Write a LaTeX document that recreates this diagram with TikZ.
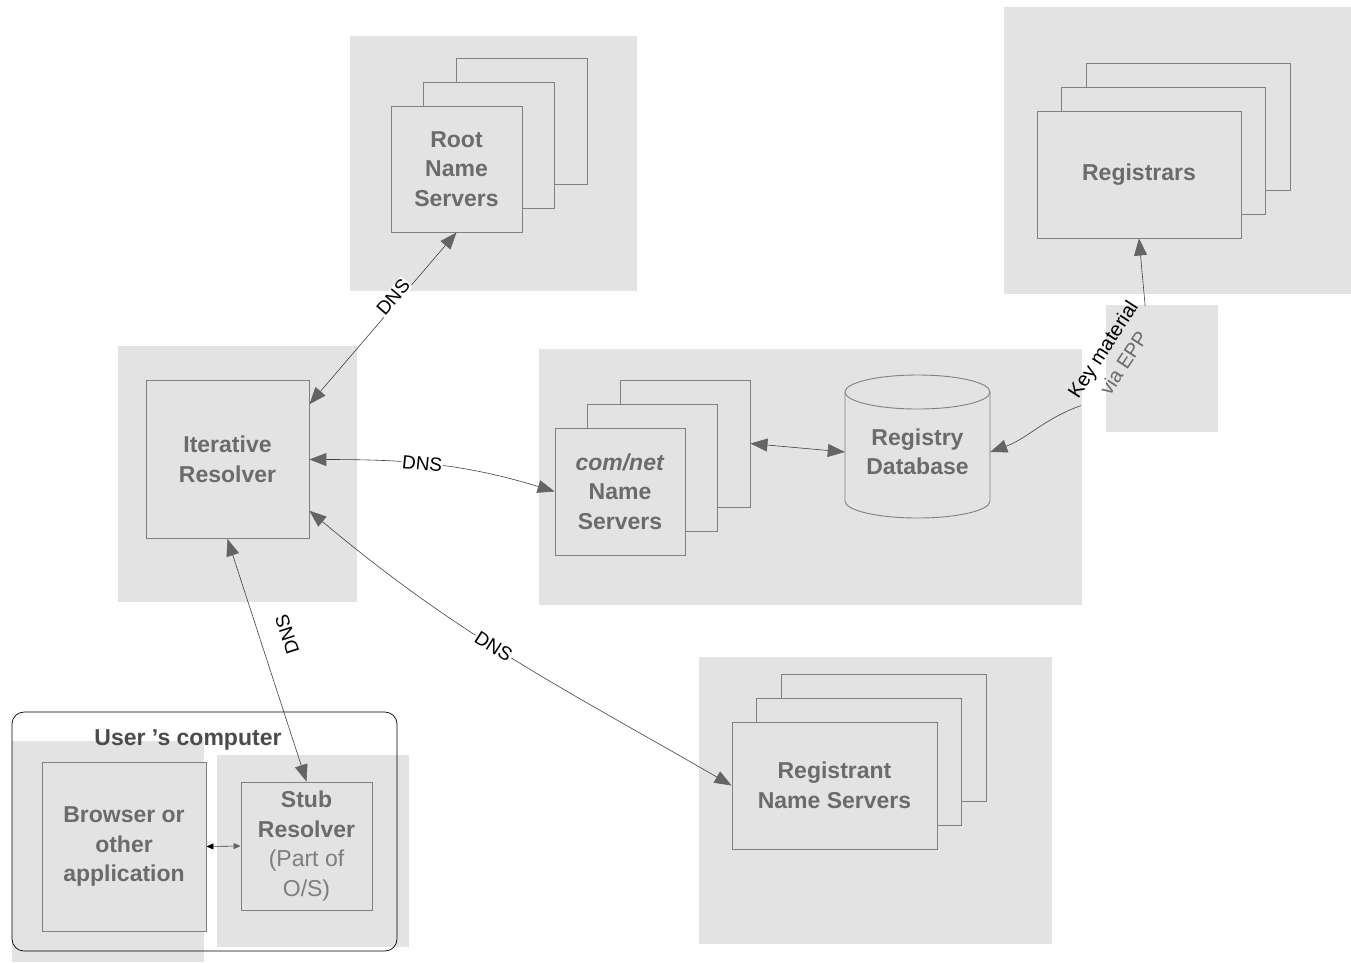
\documentclass[tikz,border=0pt]{standalone}
\usepackage{fontspec}
\setmainfont{Liberation Sans}
\usetikzlibrary{arrows.meta}

\begin{document}
\begin{tikzpicture}[x=1pt,y=-1pt]
  \definecolor{panelgray}{RGB}{227,227,227}
  \definecolor{cardline}{RGB}{128,128,128}
  \definecolor{labelgray}{RGB}{107,107,107}
  \definecolor{partgray}{RGB}{125,125,125}
  \definecolor{tipgray}{RGB}{100,100,100}
  \tikzset{
    panel/.style={fill=panelgray},
    card/.style={draw=cardline,fill=panelgray,line width=0.9pt,inner sep=0pt},
    cardtext/.style={card,align=center,text=labelgray,
      font=\fontsize{23}{29.5}\selectfont\bfseries},
    conn/.style={<->,draw=black!75,line width=0.6pt,
      >={Triangle[length=17pt,width=13pt,color=tipgray]}},
    proto/.style={fill=white,inner sep=1pt,font=\fontsize{19}{22}\selectfont},
  }
  \useasboundingbox (0,0) rectangle (1351,962);
  % grey backgrounds
  \foreach \xa/\ya/\xb/\yb in {350/36/637/291, 1004/7/1351/294, 1106/305/1218/432,
      539/349/1082/605, 118/346/357/602, 699/657/1052/944, 12/741/204/962, 217/755/409/947} {
    \fill[panel] (\xa,\ya) rectangle (\xb,\yb);
  }
  \node[draw,rounded corners=12pt,line width=0.7pt,minimum width=385,minimum height=239]
    (usr) at (204.5,831.5) {};
  \node[text=labelgray!70!black,font=\fontsize{23}{28}\selectfont\bfseries]
    (usrlbl) at (188,740) {User 's computer};
  % stacked server cards
  \foreach \n/\cx/\cy/\w/\h/\dx in {root/456.5/169/131/126/32.5, regr/1139/174.5/204/127/24.5,
      comnet/620/491.5/130/127/32.5, regt/834.5/785.5/205/127/24.5} {
    \foreach \k in {2,1}
      \node[card,minimum width=\w,minimum height=\h] (\n\k) at (\cx+\k*\dx,\cy-\k*24) {};
  }
  \node[cardtext,minimum width=131,minimum height=126] (root) at (456.5,169) {Root\\Name\\Servers};
  \node[cardtext,minimum width=204,minimum height=127] (regr) at (1139,174.5) {Registrars};
  \node[cardtext,minimum width=130,minimum height=127] (comnet) at (620,491.5) {\textit{com/net}\\Name\\Servers};
  \node[cardtext,minimum width=205,minimum height=127] (regt) at (834.5,785.5) {Registrant\\Name Servers};
  \node[cardtext,minimum width=163,minimum height=158] (iter) at (227.5,459.5) {Iterative\\Resolver};
  \node[cardtext,minimum width=164,minimum height=169] (brws) at (124,846.5) {Browser or\\other\\application};
  \node[cardtext,minimum width=131,minimum height=128] (stub) at (306.5,846)
    {Stub\\Resolver\\\textcolor{partgray}{\mdseries(Part of}\\\textcolor{partgray}{\mdseries O/S)}};
  % registry database
  \draw[card] (845,392) -- (845,501) arc[start angle=180,end angle=0,x radius=72.5,y radius=17] -- (990,392);
  \draw[card] (917.5,392) ellipse [x radius=72.5,y radius=17];
  \node[align=center,text=labelgray,font=\fontsize{23}{29.5}\selectfont\bfseries,
    minimum width=145,minimum height=143] (regdb) at (917.5,452) {Registry\\Database};
  % connectors
  \draw[conn] (iter.34) -- node[proto,pos=0.6,sloped,yshift=6pt] {DNS} (root.south);
  \draw[conn] (iter.east) to[out=0,in=163] node[proto,pos=0.45,sloped] {DNS} (comnet.west);
  \draw[conn] (iter.-32) to[out=-40,in=150] node[proto,pos=0.45,sloped] {DNS} (regt.west);
  \draw[conn] (iter.south) -- node[proto,pos=0.43,rotate=108,yshift=-27pt] {DNS} (stub.north);
  \draw[conn] (comnet2.east) -- (regdb.west);
  \draw[line width=0.6pt,draw=black!75,{Triangle[length=7pt,width=6pt,color=black]}-{Triangle[length=7pt,width=6pt,color=tipgray]}]
    (brws.east) -- (stub.west);
  \node[rotate=57,align=center,font=\fontsize{20}{25}\selectfont] (keylbl) at (1113,356)
    {Key material\\\textcolor{labelgray}{via EPP}};
  \draw[conn,<-] (regr.south) -- (keylbl.east);
  \draw[conn,->] (keylbl.west) to[out=200,in=20] (regdb.east);
\end{tikzpicture}
\end{document}
